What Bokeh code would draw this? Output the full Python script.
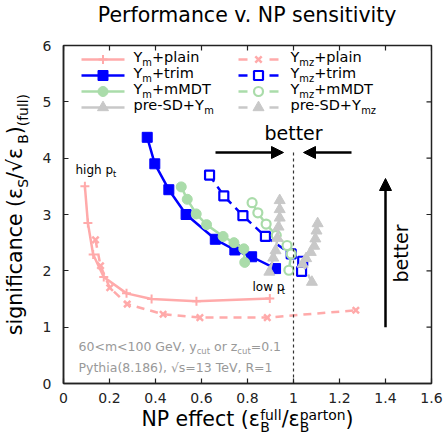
import math
from bokeh.plotting import figure
from bokeh.models import Range1d, FixedTicker, Label, Arrow, NormalHead
from bokeh.layouts import row, column
from bokeh.embed import file_html
from bokeh.resources import INLINE

# ---------------- data ----------------
x_ticks = [0, 0.2, 0.4, 0.6, 0.8, 1.0, 1.2, 1.4, 1.6]
x_tick_labels = ["0", "0.2", "0.4", "0.6", "0.8", "1", "1.2", "1.4", "1.6"]
y_ticks = [0, 1, 2, 3, 4, 5, 6]
y_tick_labels = ["0", "1", "2", "3", "4", "5", "6"]

ym_plain_x = [0.093, 0.106, 0.129, 0.175, 0.274, 0.383, 0.578, 0.897]
ym_plain_y = [3.50, 2.85, 2.29, 1.89, 1.60, 1.50, 1.46, 1.51]

ymz_plain_x = [0.139, 0.161, 0.201, 0.277, 0.433, 0.593, 0.886, 1.271]
ymz_plain_y = [2.55, 2.09, 1.70, 1.41, 1.23, 1.17, 1.17, 1.30]

ym_trim_x = [0.364, 0.397, 0.458, 0.533, 0.660, 0.745, 0.818, 0.922]
ym_trim_y = [4.37, 3.90, 3.44, 3.00, 2.56, 2.37, 2.25, 2.04]

ymz_trim_x = [0.635, 0.697, 0.780, 0.878, 0.990, 1.040, 1.035]
ymz_trim_y = [3.70, 3.33, 2.98, 2.61, 2.30, 2.17, 1.99]

ym_mmdt_x = [0.512, 0.538, 0.577, 0.622, 0.694, 0.741, 0.784, 0.788]
ym_mmdt_y = [3.49, 3.27, 3.01, 2.82, 2.61, 2.50, 2.39, 2.15]

ymz_mmdt_x = [0.820, 0.845, 0.881, 0.925, 0.972, 0.990, 0.980]
ymz_mmdt_y = [3.21, 3.03, 2.83, 2.63, 2.45, 2.30, 2.01]

presd_ym_x = [0.940, 0.940, 0.940, 0.935, 0.930, 0.922, 0.912, 0.895]
presd_ym_y = [3.25, 3.09, 2.94, 2.78, 2.58, 2.36, 2.23, 1.98]

presd_ymz_x = [1.105, 1.100, 1.095, 1.090, 1.075, 1.055, 1.040, 1.080]
presd_ymz_y = [2.84, 2.71, 2.57, 2.44, 2.33, 2.22, 2.12, 1.80]

# ---------------- styles / layout ----------------
PINK = "#ffaaaa"
BLUE = "#0000ff"
GREEN = "#aadcaa"
GREY = "#c8c8c8"
AXC = "#222222"
FONT = "DejaVu Sans"

W, H = 446, 435
LW = 34            # left strip (y label)
TH = 35            # title strip height
XH = 27            # bottom strip (x label) height
FL, FR, FT, FB = 63, 431, 45, 383   # frame in page pixels
XMIN, XMAX, YMIN, YMAX = 0.0, 1.6, 0.0, 6.0
MAIN_W = W - LW
MAIN_H = H - TH - XH


def X(px):
    return XMIN + (px - FL) / (FR - FL) * (XMAX - XMIN)


def Y(py):
    return YMIN + (FB - py) / (FB - FT) * (YMAX - YMIN)


def ident(v):
    return v


def no_align(f):
    if "frame_align" in f.properties():
        f.frame_align = False


p = figure(width=MAIN_W, height=MAIN_H, output_backend="svg", toolbar_location=None,
           x_range=Range1d(XMIN, XMAX), y_range=Range1d(YMIN, YMAX),
           min_border_left=FL - LW, min_border_right=W - FR,
           min_border_top=FT - TH, min_border_bottom=TH + MAIN_H - FB)
no_align(p)
p.grid.visible = False
p.outline_line_color = AXC
p.outline_line_width = 1.5
p.background_fill_color = "white"
p.border_fill_color = "white"

for ax in (p.xaxis[0], p.yaxis[0]):
    ax.major_tick_in = 5
    ax.major_tick_out = 0
    ax.minor_tick_line_color = None
    ax.axis_line_width = 1.5
    ax.axis_line_color = AXC
    ax.major_tick_line_width = 1.2
    ax.major_tick_line_color = AXC
    ax.major_label_text_font = FONT
    ax.major_label_text_font_size = "14px"
    ax.major_label_text_color = AXC

p.xaxis[0].ticker = FixedTicker(ticks=x_ticks)
p.xaxis[0].major_label_overrides = {t: l for t, l in zip(x_ticks, x_tick_labels)}
p.xaxis[0].major_label_standoff = 9
p.yaxis[0].ticker = FixedTicker(ticks=y_ticks)
p.yaxis[0].major_label_overrides = {t: l for t, l in zip(y_ticks, y_tick_labels)}
p.yaxis[0].major_label_standoff = 12

# mirrored inward ticks on the top and right edges (5 px long)
TDY = 5 * (YMAX - YMIN) / (FB - FT)
TDX = 5 * (XMAX - XMIN) / (FR - FL)
p.segment(x0=x_ticks, y0=[YMAX] * len(x_ticks), x1=x_ticks, y1=[YMAX - TDY] * len(x_ticks),
          line_color=AXC, line_width=1.2)
p.segment(x0=[XMAX] * len(y_ticks), y0=y_ticks, x1=[XMAX - TDX] * len(y_ticks), y1=y_ticks,
          line_color=AXC, line_width=1.2)

# ---------------- series ----------------
DASH = "8 6"
p.line(ym_plain_x, ym_plain_y, line_color=PINK, line_width=2.5)
p.scatter(ym_plain_x, ym_plain_y, marker="cross", size=9, line_color=PINK, line_width=2)
p.line(ymz_plain_x, ymz_plain_y, line_color=PINK, line_width=2.5, line_dash=DASH)
p.scatter(ymz_plain_x, ymz_plain_y, marker="x", size=9, line_color=PINK, line_width=2.5)

p.line(ym_trim_x, ym_trim_y, line_color=BLUE, line_width=2.5)
p.scatter(ym_trim_x, ym_trim_y, marker="square", size=10, fill_color=BLUE, line_color=BLUE)
p.line(ymz_trim_x, ymz_trim_y, line_color=BLUE, line_width=2.5, line_dash=DASH)
p.scatter(ymz_trim_x, ymz_trim_y, marker="square", size=9, fill_color="white", line_color=BLUE, line_width=2.2)

p.line(ym_mmdt_x, ym_mmdt_y, line_color=GREEN, line_width=2.5)
p.scatter(ym_mmdt_x, ym_mmdt_y, marker="circle", size=10, fill_color=GREEN, line_color=GREEN)
p.line(ymz_mmdt_x, ymz_mmdt_y, line_color=GREEN, line_width=2.5, line_dash=DASH)
p.scatter(ymz_mmdt_x, ymz_mmdt_y, marker="circle", size=9, fill_color="white", line_color=GREEN, line_width=2.2)

p.line(presd_ym_x, presd_ym_y, line_color=GREY, line_width=2.5)
p.scatter(presd_ym_x, presd_ym_y, marker="triangle", size=11, fill_color=GREY, line_color=GREY)
p.line(presd_ymz_x, presd_ymz_y, line_color=GREY, line_width=2.5, line_dash=DASH)
p.scatter(presd_ymz_x, presd_ymz_y, marker="triangle", size=11, fill_color=GREY, line_color=GREY)

# ---------------- text helpers ----------------
CW = {' ': .318, '(': .390, ')': .390, '+': .838, '-': .361, '/': .337, '.': .318, ',': .318,
      '<': .838, '=': .838, '√': .838, 'ε': .541,
      'A': .684, 'B': .686, 'D': .770, 'G': .775, 'M': .863, 'N': .748, 'P': .603, 'R': .695,
      'S': .635, 'T': .611, 'V': .684, 'Y': .611,
      'a': .613, 'b': .635, 'c': .550, 'd': .635, 'e': .615, 'f': .352, 'g': .635, 'h': .634,
      'i': .278, 'l': .278, 'm': .974, 'n': .634, 'o': .612, 'p': .635, 'r': .411, 's': .521,
      't': .392, 'u': .634, 'v': .592, 'y': .592, 'z': .525}
for d in "0123456789":
    CW[d] = .636

BASE_FIX = 0.5   # labels render about half an em past the requested baseline


def tw(s, size):
    return sum(CW.get(c, .6) for c in s) * size


def rich(fig, fx, fy, pieces, xpx, ypx, size, color="black", rotated=False, center=False,
         small=0.68, sup=0.45, sub=0.22):
    ss = size * small
    sub_d, sup_d = sub * size, -sup * size

    def width(pc):
        if pc[0] == "n":
            return tw(pc[1], size)
        if pc[0] in ("sub", "sup"):
            return tw(pc[1], ss)
        return max(tw(pc[1], ss), tw(pc[2], ss))

    total = sum(width(pc) for pc in pieces)
    pos = ypx if rotated else xpx
    if center:
        pos = pos + total / 2 if rotated else pos - total / 2
    angle = math.pi / 2 if rotated else 0.0

    def put(text, sz, shift, at):
        lead = len(text) - len(text.lstrip(" "))
        adv = tw(" " * lead, sz)
        text = text.strip(" ")
        if not text:
            return
        shift = shift - BASE_FIX * sz
        if rotated:
            xx, yy = xpx + shift, at - adv
        else:
            xx, yy = at + adv, ypx + shift
        fig.add_layout(Label(x=fx(xx), y=fy(yy), text=text, text_font=FONT,
                             text_font_size=f"{sz:.1f}px", text_color=color,
                             text_align="left", text_baseline="alphabetic", angle=angle))

    for pc in pieces:
        if pc[0] == "n":
            put(pc[1], size, 0, pos)
        elif pc[0] == "sub":
            put(pc[1], ss, sub_d, pos)
        elif pc[0] == "sup":
            put(pc[1], ss, sup_d, pos)
        else:
            put(pc[1], ss, sub_d, pos)
            put(pc[2], ss, sup_d, pos)
        w = width(pc)
        pos = pos - w if rotated else pos + w


def strip(width, height, xr, yr, bl=0, br=0, bt=0, bb=0):
    f = figure(width=width, height=height, output_backend="svg", toolbar_location=None,
               x_range=Range1d(*xr), y_range=Range1d(*yr), x_axis_type=None, y_axis_type=None,
               min_border=0, min_border_left=bl, min_border_right=br,
               min_border_top=bt, min_border_bottom=bb)
    no_align(f)
    f.grid.visible = False
    f.outline_line_color = None
    f.background_fill_color = "white"
    f.border_fill_color = "white"
    return f


# strips: horizontal ones share the main frame's left/right edges, the left one its top/bottom edges
title_fig = strip(MAIN_W, TH, (XMIN, XMAX), (TH, 0), bl=FL - LW, br=W - FR)
xlab_fig = strip(MAIN_W, XH, (XMIN, XMAX), (H, H - XH), bl=FL - LW, br=W - FR)
ylab_fig = strip(LW, H, (0, LW), (FB, FT), bt=FT, bb=H - FB)

rich(title_fig, X, ident, [("n", "Performance v. NP sensitivity")], 248, 25, 20.5, center=True)
rich(xlab_fig, X, ident,
     [("n", "NP effect (ε"), ("stack", "B", "full"), ("n", "/ε"), ("stack", "B", "parton"), ("n", ")")],
     247, 429, 20.5, center=True, sup=0.36, sub=0.2)
rich(ylab_fig, ident, ident,
     [("n", "significance (ε"), ("sub", "S"), ("n", "/√ε"), ("sub", "B"), ("n", ")"), ("sub", "(full)")],
     25, 214, 20.5, rotated=True, center=True)

# annotations inside the frame
rich(p, X, Y, [("n", "high p"), ("sub", "t")], 75, 175, 12)
rich(p, X, Y, [("n", "low p"), ("sub", "t")], 252, 292, 12)
rich(p, X, Y, [("n", "60<m<100 GeV, y"), ("sub", "cut"), ("n", " or z"), ("sub", "cut"), ("n", "=0.1")],
     78, 352, 12.5, color="#999999")
rich(p, X, Y, [("n", "Pythia(8.186), √s=13 TeV, R=1")], 78, 373, 12.5, color="#999999")
rich(p, X, Y, [("n", "better")], 293, 142, 19, center=True)
rich(p, X, Y, [("n", "better")], 410, 253, 19, rotated=True, center=True)

ARROW_Y = Y(152)
for xs, xe, ys, ye in [(X(215), X(283), ARROW_Y, ARROW_Y),
                       (X(351), X(303), ARROW_Y, ARROW_Y),
                       (1.4, 1.4, 1.0, Y(178))]:
    p.add_layout(Arrow(end=NormalHead(size=12, fill_color="black", line_color="black"),
                       x_start=xs, y_start=ys, x_end=xe, y_end=ye,
                       line_width=2.5, line_color="black"))
p.segment(x0=[1.0], y0=[0.0], x1=[1.0], y1=[Y(151)], line_color="#333333", line_width=1.2, line_dash="3 3")

# ---------------- legend (manual, for sub-scripted labels) ----------------
leg_rows = [59, 75, 91, 107]
leg_cols = [(81, 124, 133), (238, 278, 290)]
legend_items = [
    [("Y", "m", "+plain"), dict(color=PINK, marker="cross", fill=PINK, lw=2, size=9)],
    [("Y", "mz", "+plain"), dict(color=PINK, marker="x", fill=PINK, lw=2.5, size=9)],
    [("Y", "m", "+trim"), dict(color=BLUE, marker="square", fill=BLUE, lw=1, size=10)],
    [("Y", "mz", "+trim"), dict(color=BLUE, marker="square", fill="white", lw=2.2, size=9)],
    [("Y", "m", "+mMDT"), dict(color=GREEN, marker="circle", fill=GREEN, lw=1, size=10)],
    [("Y", "mz", "+mMDT"), dict(color=GREEN, marker="circle", fill="white", lw=2.2, size=9)],
    [("pre-SD+Y", "m", ""), dict(color=GREY, marker="triangle", fill=GREY, lw=1, size=11)],
    [("pre-SD+Y", "mz", ""), dict(color=GREY, marker="triangle", fill=GREY, lw=1, size=11)],
]
for i, (lab, st) in enumerate(legend_items):
    r, c = divmod(i, 2)
    x0, x1, xt = leg_cols[c]
    yy = Y(leg_rows[r])
    xm = (x0 + x1) / 2
    if c == 0:
        p.segment(x0=[X(x0)], y0=[yy], x1=[X(x1)], y1=[yy], line_color=st["color"], line_width=2.5)
    else:
        p.segment(x0=[X(x0), X(x1 - 9)], y0=[yy, yy], x1=[X(x0 + 9), X(x1)], y1=[yy, yy],
                  line_color=st["color"], line_width=2.5)
    p.scatter([X(xm)], [yy], marker=st["marker"], size=st["size"], fill_color=st["fill"],
              line_color=st["color"], line_width=st["lw"])
    pieces = [("n", lab[0]), ("sub", lab[1])]
    if lab[2]:
        pieces.append(("n", lab[2]))
    rich(p, X, Y, pieces, xt, leg_rows[r] + 5, 14.5)

layout = row(ylab_fig, column(title_fig, p, xlab_fig, spacing=0), spacing=0)
open("out.html", "w").write(file_html(layout, INLINE))
